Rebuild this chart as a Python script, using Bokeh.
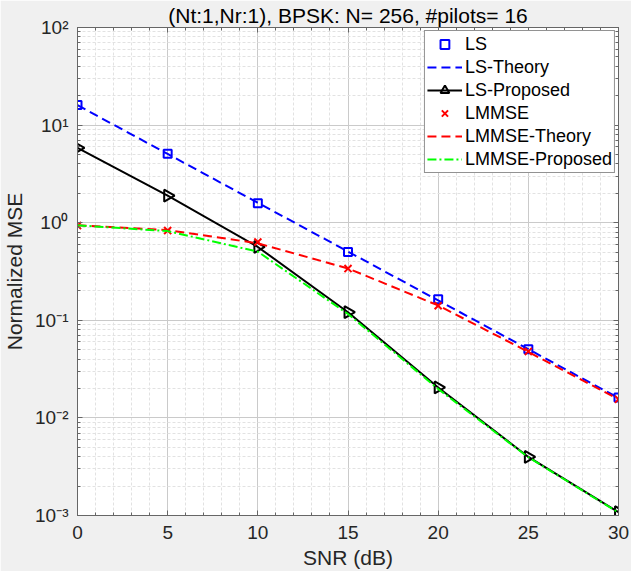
import numpy as np
from bokeh.plotting import figure
from bokeh.models import (FixedTicker, CustomJSTickFormatter, Legend, LegendItem, Range1d,
                          LogAxis, LinearAxis)
from bokeh.embed import file_html
from bokeh.resources import INLINE

# ---- data ----
snr_db = [0, 5, 10, 15, 20, 25, 30]
ls = [16.1, 5.08, 1.58, 0.50, 0.164, 0.0505, 0.0162]
ls_theory = [16.0, 5.06, 1.60, 0.506, 0.160, 0.0506, 0.0160]
ls_proposed = [5.85, 1.89, 0.564, 0.121, 0.0205, 0.00398, 0.00108]
lmmse = [0.935, 0.83, 0.634, 0.339, 0.141, 0.048, 0.0155]
lmmse_theory = [0.94, 0.84, 0.615, 0.34, 0.142, 0.0475, 0.0155]
lmmse_proposed = [0.94, 0.82, 0.505, 0.116, 0.0198, 0.00395, 0.00107]

x_ticks = [0, 5, 10, 15, 20, 25, 30]
x_minor = list(range(0, 31))
y_ticks = [1e-3, 1e-2, 1e-1, 1e0, 1e1, 1e2]
y_minor = [m * 10.0 ** e for e in range(-3, 2) for m in range(2, 10)]

title_text = "(Nt:1,Nr:1), BPSK: N= 256, #pilots= 16"
x_label = "SNR (dB)"
y_label = "Normalized MSE"

FONT = "Liberation Sans"
AX = "#666666"
TXT = "#262626"

p = figure(width=631, height=571, y_axis_type="log",
           x_range=Range1d(0, 30), y_range=Range1d(1e-3, 1e2),
           output_backend="svg", toolbar_location=None,
           min_border_left=74, min_border_right=13, min_border_top=24, min_border_bottom=55)

p.background_fill_color = "white"
p.border_fill_color = "#f0f0f0"
p.outline_line_color = AX
p.outline_line_width = 1

# title
p.title.text = title_text
p.title.text_font = FONT
p.title.text_font_size = "21px"
p.title.text_font_style = "normal"
p.title.text_color = "black"
p.title.align = "center"
p.title.standoff = 2

sup_code = """
const sup = {"-": "\u207b", "0": "\u2070", "1": "\u00b9", "2": "\u00b2", "3": "\u00b3",
             "4": "\u2074", "5": "\u2075", "6": "\u2076", "7": "\u2077", "8": "\u2078", "9": "\u2079"};
const e = Math.round(Math.log10(tick));
let s = "";
for (const c of String(e)) { s += sup[c]; }
return "10" + s;
"""

p.xaxis.ticker = FixedTicker(ticks=x_ticks, minor_ticks=x_minor)
p.yaxis.ticker = FixedTicker(ticks=y_ticks, minor_ticks=y_minor)
p.yaxis.formatter = CustomJSTickFormatter(code=sup_code)

for ax in (p.xaxis[0], p.yaxis[0]):
    ax.axis_line_color = AX
    ax.major_tick_line_color = AX
    ax.minor_tick_line_color = AX
    ax.major_tick_in = 5
    ax.major_tick_out = 0
    ax.minor_tick_in = 3
    ax.minor_tick_out = 0
    ax.major_label_text_font = FONT
    ax.major_label_text_font_size = "19px"
    ax.major_label_text_color = TXT
    ax.axis_label_text_font = FONT
    ax.axis_label_text_font_size = "21px"
    ax.axis_label_text_font_style = "normal"
    ax.axis_label_text_color = TXT

p.xaxis.axis_label = x_label
p.yaxis.axis_label = y_label
p.xaxis.major_label_standoff = 10
p.xaxis.axis_label_standoff = 4
p.yaxis.major_label_standoff = 9
p.yaxis.axis_label_standoff = 6

# box ticks on right and top (no labels)
blank = CustomJSTickFormatter(code='return "";')
right = LogAxis(ticker=FixedTicker(ticks=y_ticks, minor_ticks=y_minor), formatter=blank,
                major_label_text_font_size="1px", major_label_standoff=0,
                axis_line_color=AX, major_tick_line_color=AX, minor_tick_line_color=AX,
                major_tick_in=5, major_tick_out=0, minor_tick_in=3, minor_tick_out=0)
p.add_layout(right, "right")
top = LinearAxis(ticker=FixedTicker(ticks=x_ticks, minor_ticks=x_minor), formatter=blank,
                 major_label_text_font_size="1px", major_label_standoff=0,
                 axis_line_color=AX, major_tick_line_color=AX, minor_tick_line_color=AX,
                 major_tick_in=5, major_tick_out=0, minor_tick_in=3, minor_tick_out=0)
p.add_layout(top, "above")

# grids
for g in (p.xgrid[0], p.ygrid[0]):
    g.grid_line_color = "#cacaca"
    g.grid_line_width = 1
    g.minor_grid_line_color = "#e2e2e2"
    g.minor_grid_line_dash = "3 2"
    g.minor_grid_line_width = 1

# series
r_ls = p.scatter(snr_db, ls, marker="square", size=8, line_color="#0000ff",
                 fill_color=None, line_width=2)
r_lst = p.line(snr_db, ls_theory, line_color="#0000ff", line_width=2, line_dash="9 5")
r_lsp_l = p.line(snr_db, ls_proposed, line_color="black", line_width=2)
r_lsp_m = p.scatter(snr_db, ls_proposed, marker="triangle", angle=-np.pi / 2, size=12,
                    line_color="black", fill_color=None, line_width=2)
r_lm = p.scatter(snr_db, lmmse, marker="x", size=10, line_color="#ff0000", line_width=2)
r_lmt = p.line(snr_db, lmmse_theory, line_color="#ff0000", line_width=2, line_dash="9 5")
r_lmp = p.line(snr_db, lmmse_proposed, line_color="#00ff00", line_width=2, line_dash="9 3 2 3")

legend = Legend(items=[
    LegendItem(label="LS", renderers=[r_ls]),
    LegendItem(label="LS-Theory", renderers=[r_lst]),
    LegendItem(label="LS-Proposed", renderers=[r_lsp_l, r_lsp_m]),
    LegendItem(label="LMMSE", renderers=[r_lm]),
    LegendItem(label="LMMSE-Theory", renderers=[r_lmt]),
    LegendItem(label="LMMSE-Proposed", renderers=[r_lmp]),
], location="top_right")
legend.margin = 3
legend.padding = 2
legend.spacing = 1
legend.glyph_width = 35
legend.glyph_height = 22
legend.label_height = 22
legend.label_standoff = 3
legend.label_text_font = FONT
legend.label_text_font_size = "18px"
legend.label_text_color = "black"
legend.border_line_color = "#262626"
legend.border_line_width = 1
legend.background_fill_color = "white"
legend.background_fill_alpha = 1
p.add_layout(legend, "center")

open("out.html", "w").write(file_html(p, INLINE))
